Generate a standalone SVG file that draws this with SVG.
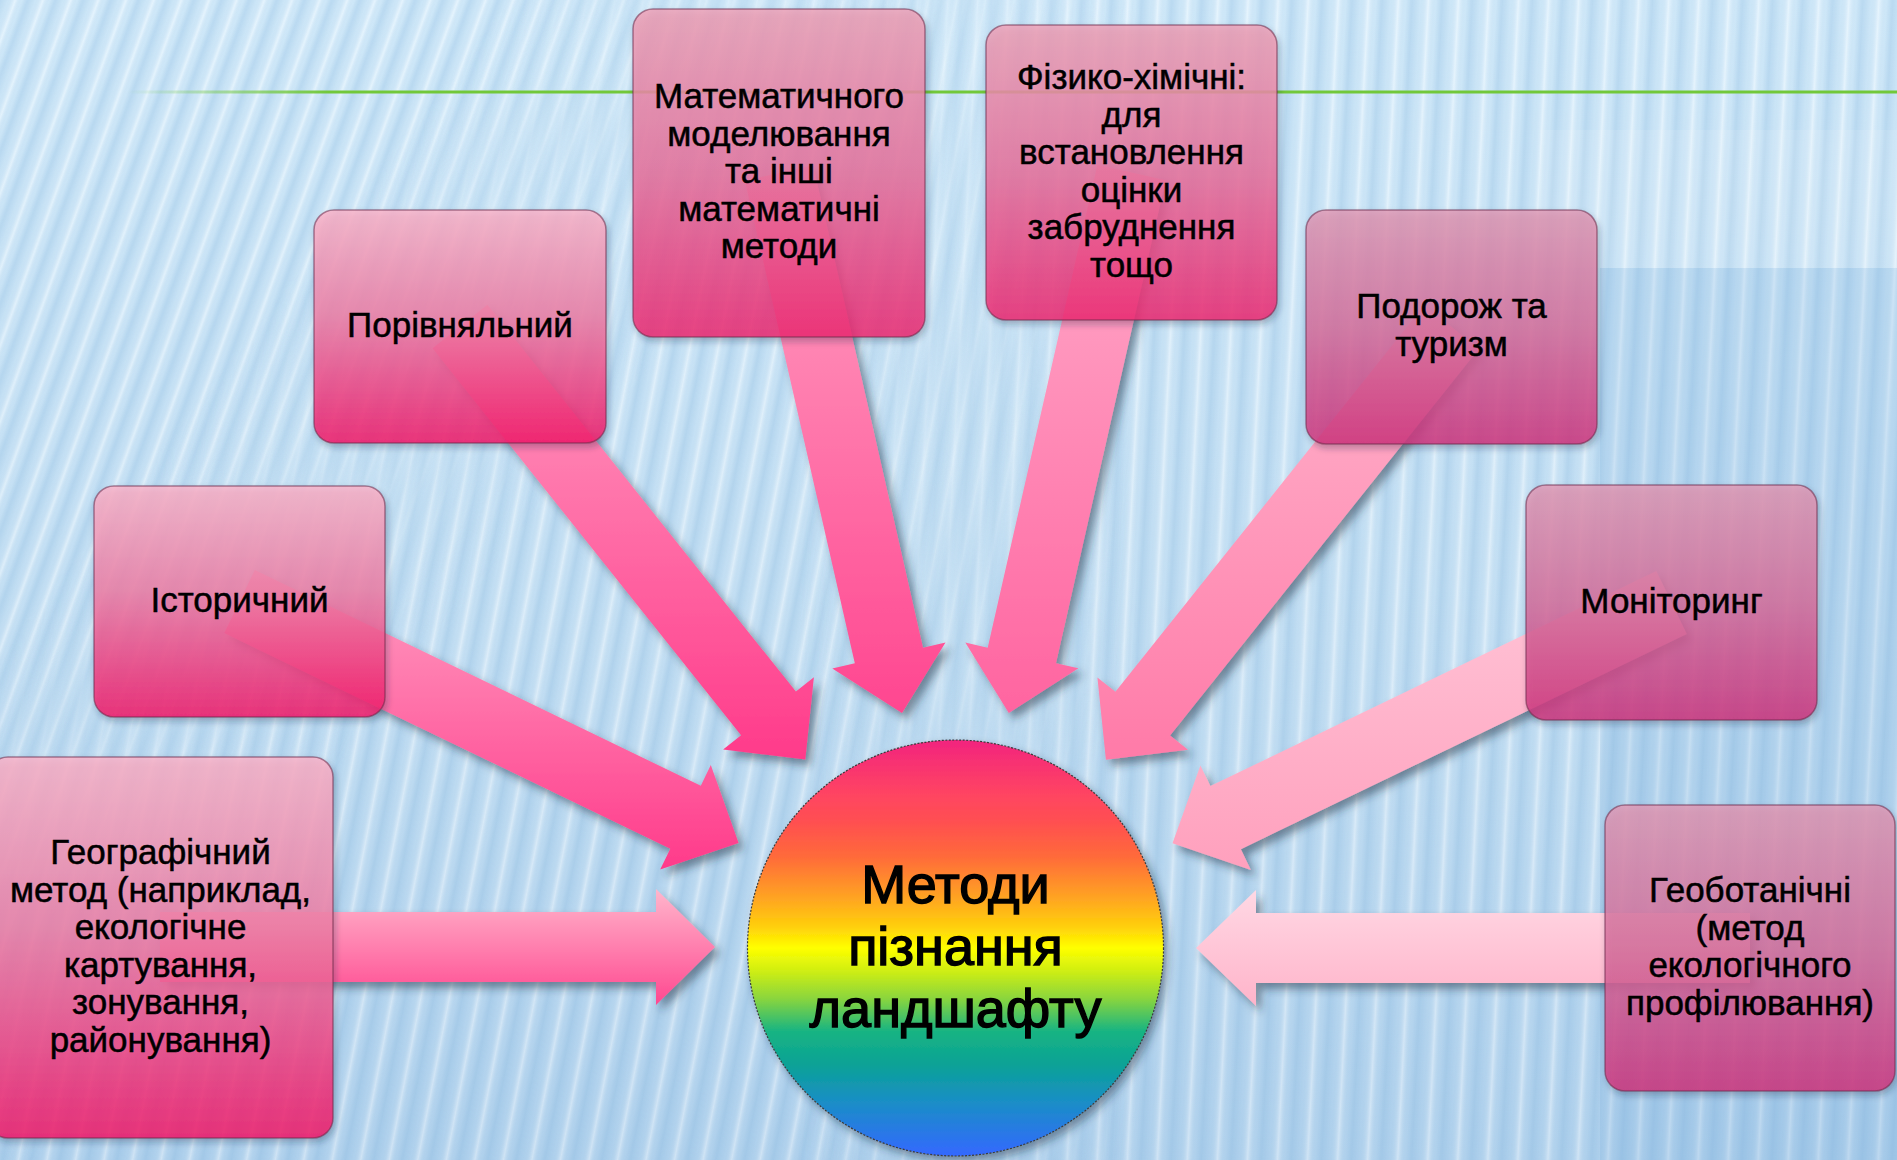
<svg xmlns="http://www.w3.org/2000/svg" width="1897" height="1160" viewBox="0 0 1897 1160">
<defs>
<style>
.lbl{font-family:"Liberation Sans",Arial,sans-serif;font-size:35px;fill:#000;stroke:#000;stroke-width:0.5;text-anchor:middle}
.hub{font-family:"Liberation Sans",Arial,sans-serif;font-size:54px;fill:#000;stroke:#000;stroke-width:1.4;text-anchor:middle}
.box{fill-opacity:0.82;stroke:#6b2a48;stroke-opacity:0.55;stroke-width:1.5;filter:url(#shBox)}
.arrow{filter:url(#shArrow)}
</style>
<linearGradient id="bg" x1="0" y1="0" x2="0" y2="1">
<stop offset="0" stop-color="#d8eefc"/>
<stop offset="0.55" stop-color="#cbe4f6"/>
<stop offset="1" stop-color="#b6d5ef"/>
</linearGradient>
<linearGradient id="sg" x1="0" y1="0" x2="1" y2="0">
<stop offset="0" stop-color="#7aaed8" stop-opacity="0.32"/>
<stop offset="0.3" stop-color="#7aaed8" stop-opacity="0.12"/>
<stop offset="0.55" stop-color="#ffffff" stop-opacity="0.35"/>
<stop offset="0.8" stop-color="#7aaed8" stop-opacity="0.1"/>
<stop offset="1" stop-color="#7aaed8" stop-opacity="0.32"/>
</linearGradient>
<pattern id="stTL" width="26" height="200" patternUnits="userSpaceOnUse" patternTransform="rotate(20)">
<rect width="26" height="200" fill="url(#sg)"/>
</pattern>
<pattern id="stL" width="28" height="200" patternUnits="userSpaceOnUse" patternTransform="rotate(11)">
<rect width="28" height="200" fill="url(#sg)"/>
</pattern>
<pattern id="stR" width="30" height="200" patternUnits="userSpaceOnUse" patternTransform="rotate(3)">
<rect width="30" height="200" fill="url(#sg)"/>
</pattern>
<linearGradient id="mgTL" x1="0" y1="0" x2="900" y2="700" gradientUnits="userSpaceOnUse">
<stop offset="0.35" stop-color="#fff"/>
<stop offset="0.65" stop-color="#000"/>
</linearGradient>
<linearGradient id="mgTLinv" x1="0" y1="0" x2="900" y2="700" gradientUnits="userSpaceOnUse">
<stop offset="0.35" stop-color="#000"/>
<stop offset="0.65" stop-color="#fff"/>
</linearGradient>
<linearGradient id="mgL" x1="0" y1="0" x2="1" y2="0">
<stop offset="0.42" stop-color="#fff"/>
<stop offset="0.6" stop-color="#000"/>
</linearGradient>
<linearGradient id="mgR" x1="0" y1="0" x2="1" y2="0">
<stop offset="0.42" stop-color="#000"/>
<stop offset="0.6" stop-color="#fff"/>
</linearGradient>
<mask id="mTL"><rect width="1897" height="1160" fill="url(#mgTL)"/></mask>
<mask id="mTLinv"><rect width="1897" height="1160" fill="url(#mgTLinv)"/></mask>
<mask id="mL"><rect width="1897" height="1160" fill="url(#mgL)"/></mask>
<mask id="mR"><rect width="1897" height="1160" fill="url(#mgR)"/></mask>
<linearGradient id="gline" x1="127" y1="0" x2="330" y2="0" gradientUnits="userSpaceOnUse">
<stop offset="0" stop-color="#72c83a" stop-opacity="0"/>
<stop offset="1" stop-color="#72c83a" stop-opacity="1"/>
</linearGradient>
<filter id="shArrow" x="-20%" y="-20%" width="140%" height="140%">
<feDropShadow dx="5" dy="6" stdDeviation="4" flood-color="#1e2e40" flood-opacity="0.5"/>
</filter>
<filter id="shBox" x="-10%" y="-10%" width="120%" height="120%">
<feDropShadow dx="2" dy="4" stdDeviation="3" flood-color="#1e2e40" flood-opacity="0.35"/>
</filter>
<filter id="shHub" x="-10%" y="-10%" width="120%" height="120%">
<feDropShadow dx="4" dy="5" stdDeviation="4" flood-color="#1e2e40" flood-opacity="0.45"/>
</filter>
<linearGradient id="bHot" x1="0" y1="0" x2="0" y2="1">
<stop offset="0" stop-color="#fbb2c8"/>
<stop offset="0.45" stop-color="#ef7ea6"/>
<stop offset="1" stop-color="#f3186a"/>
</linearGradient>
<linearGradient id="bMid" x1="0" y1="0" x2="0" y2="1">
<stop offset="0" stop-color="#eea0b6"/>
<stop offset="0.5" stop-color="#e8709c"/>
<stop offset="1" stop-color="#ee2872"/>
</linearGradient>
<linearGradient id="bCool" x1="0" y1="0" x2="0" y2="1">
<stop offset="0" stop-color="#e098b4"/>
<stop offset="0.5" stop-color="#d66e9c"/>
<stop offset="1" stop-color="#cf337d"/>
</linearGradient>
<linearGradient id="aGeo" x1="0" y1="0" x2="0" y2="1">
<stop offset="0" stop-color="#ffb6cc"/>
<stop offset="1" stop-color="#ff4890"/>
</linearGradient>
<linearGradient id="aHist" x1="0" y1="0" x2="0" y2="1">
<stop offset="0" stop-color="#ff9ec2"/>
<stop offset="1" stop-color="#ff3a8a"/>
</linearGradient>
<linearGradient id="aPor" x1="0" y1="0" x2="0" y2="1">
<stop offset="0" stop-color="#ff9ec2"/>
<stop offset="1" stop-color="#ff3a8a"/>
</linearGradient>
<linearGradient id="aMat" x1="0" y1="0" x2="0" y2="1">
<stop offset="0" stop-color="#ffa4c4"/>
<stop offset="1" stop-color="#ff4690"/>
</linearGradient>
<linearGradient id="aFiz" x1="0" y1="0" x2="0" y2="1">
<stop offset="0" stop-color="#ffaecb"/>
<stop offset="1" stop-color="#ff64a0"/>
</linearGradient>
<linearGradient id="aPod" x1="0" y1="0" x2="0" y2="1">
<stop offset="0" stop-color="#ffb6cd"/>
<stop offset="1" stop-color="#ff7aa8"/>
</linearGradient>
<linearGradient id="aMon" x1="0" y1="0" x2="0" y2="1">
<stop offset="0" stop-color="#ffc6d8"/>
<stop offset="1" stop-color="#ffa0bd"/>
</linearGradient>
<linearGradient id="aGeob" x1="0" y1="0" x2="0" y2="1">
<stop offset="0" stop-color="#ffd8e4"/>
<stop offset="1" stop-color="#ffb4ca"/>
</linearGradient>
<linearGradient id="rainbow" x1="0" y1="0" x2="0" y2="1">
<stop offset="0" stop-color="#f2247e"/>
<stop offset="0.13" stop-color="#ff4462"/>
<stop offset="0.2" stop-color="#ff5050"/>
<stop offset="0.28" stop-color="#ff6a3a"/>
<stop offset="0.38" stop-color="#ffa422"/>
<stop offset="0.45" stop-color="#ffd00a"/>
<stop offset="0.5" stop-color="#ffff00"/>
<stop offset="0.55" stop-color="#d4f010"/>
<stop offset="0.62" stop-color="#8cd63c"/>
<stop offset="0.7" stop-color="#18b482"/>
<stop offset="0.78" stop-color="#0aa296"/>
<stop offset="0.87" stop-color="#1a8ec6"/>
<stop offset="1" stop-color="#3468ff"/>
</linearGradient>
</defs>

<g id="background">
<rect width="1897" height="1160" fill="url(#bg)"/>
<rect width="1897" height="1160" fill="url(#stTL)" mask="url(#mTL)"/>
<g mask="url(#mL)"><rect width="1897" height="1160" fill="url(#stL)" mask="url(#mTLinv)"/></g>
<rect width="1897" height="1160" fill="url(#stR)" mask="url(#mR)"/>
<rect x="1540" y="130" width="357" height="138" fill="#ffffff" opacity="0.1"/>
<rect x="1600" y="268" width="297" height="892" fill="#6fa6d8" opacity="0.18"/>
<line x1="127" y1="92" x2="1897" y2="92" stroke="url(#gline)" stroke-width="3"/>
</g>

<g id="connectors">
<path class="arrow" fill="url(#aGeo)" d="M160,912 L656,912 L656,889 L715,947 L656,1005 L656,982 L160,982 Z"/>
<path class="arrow" fill="url(#aGeob)" d="M1750,913 L1256,913 L1256,890 L1196,948 L1256,1006 L1256,983 L1750,983 Z"/>
<path class="arrow" fill="url(#aHist)" d="M254.8,570 L700.8,785.8 L710.8,765.1 L738.6,843 L660.2,869.5 L670.3,848.8 L224.3,633 Z"/>
<path class="arrow" fill="url(#aPor)" d="M487.4,304.7 L795.9,691.6 L813.9,677.2 L805.3,759.5 L723.1,749.6 L741.1,735.2 L432.6,348.3 Z"/>
<path class="arrow" fill="url(#aMat)" d="M813.1,165.2 L923,647.7 L945.5,642.6 L902,713 L832.3,668.4 L854.8,663.3 L744.9,180.8 Z"/>
<path class="arrow" fill="url(#aFiz)" d="M1165.6,180.3 L1056,663.2 L1078.4,668.3 L1008.8,713 L965.3,642.6 L987.7,647.7 L1097.4,164.8 Z"/>
<path class="arrow" fill="url(#aPod)" d="M1478.9,348.8 L1170.1,735.4 L1188,749.8 L1105.9,759.7 L1097.4,677.4 L1115.4,691.8 L1424.2,305.2 Z"/>
<path class="arrow" fill="url(#aMon)" d="M1686.7,634 L1240.9,849.2 L1250.9,869.9 L1172.5,843.3 L1200.4,765.4 L1210.4,786.1 L1656.3,571 Z"/>
</g>

<g id="node-geo">
<rect class="box" x="-12" y="757" width="345" height="381" rx="20" fill="url(#bHot)"/>
<text class="lbl"><tspan x="160.5" y="864">Географічний</tspan><tspan x="160.5" y="901.5">метод (наприклад,</tspan><tspan x="160.5" y="939">екологічне</tspan><tspan x="160.5" y="976.5">картування,</tspan><tspan x="160.5" y="1014">зонування,</tspan><tspan x="160.5" y="1051.5">районування)</tspan></text>
</g>

<g id="node-hist">
<rect class="box" x="94" y="486" width="291" height="231" rx="20" fill="url(#bHot)"/>
<text class="lbl" x="239.5" y="611.5">Історичний</text>
</g>

<g id="node-por">
<rect class="box" x="314" y="210" width="292" height="233" rx="20" fill="url(#bHot)"/>
<text class="lbl" x="460" y="336.5">Порівняльний</text>
</g>

<g id="node-mat">
<rect class="box" x="633" y="9" width="292" height="328" rx="20" fill="url(#bMid)"/>
<text class="lbl"><tspan x="779" y="108">Математичного</tspan><tspan x="779" y="145.5">моделювання</tspan><tspan x="779" y="183">та інші</tspan><tspan x="779" y="220.5">математичні</tspan><tspan x="779" y="258">методи</tspan></text>
</g>

<g id="node-fiz">
<rect class="box" x="986" y="25" width="291" height="295" rx="20" fill="url(#bMid)"/>
<text class="lbl"><tspan x="1131.5" y="89">Фізико-хімічні:</tspan><tspan x="1131.5" y="126.5">для</tspan><tspan x="1131.5" y="164">встановлення</tspan><tspan x="1131.5" y="201.5">оцінки</tspan><tspan x="1131.5" y="239">забруднення</tspan><tspan x="1131.5" y="276.5">тощо</tspan></text>
</g>

<g id="node-pod">
<rect class="box" x="1306" y="210" width="291" height="234" rx="20" fill="url(#bCool)"/>
<text class="lbl"><tspan x="1451.5" y="318">Подорож та</tspan><tspan x="1451.5" y="355.5">туризм</tspan></text>
</g>

<g id="node-mon">
<rect class="box" x="1526" y="485" width="291" height="235" rx="20" fill="url(#bCool)"/>
<text class="lbl" x="1671.5" y="612.5">Моніторинг</text>
</g>

<g id="node-geob">
<rect class="box" x="1605" y="805" width="290" height="286" rx="20" fill="url(#bCool)"/>
<text class="lbl"><tspan x="1750" y="902">Геоботанічні</tspan><tspan x="1750" y="939.5">(метод</tspan><tspan x="1750" y="977">екологічного</tspan><tspan x="1750" y="1014.5">профілювання)</tspan></text>
</g>

<g id="node-hub">
<circle cx="955.5" cy="948" r="208" fill="url(#rainbow)" stroke="#3a3a3a" stroke-width="1.2" stroke-dasharray="2 1.5" filter="url(#shHub)"/>
<text class="hub"><tspan x="955.5" y="903">Методи</tspan><tspan x="955.5" y="965">пізнання</tspan><tspan x="955.5" y="1027">ландшафту</tspan></text>
</g>
</svg>
